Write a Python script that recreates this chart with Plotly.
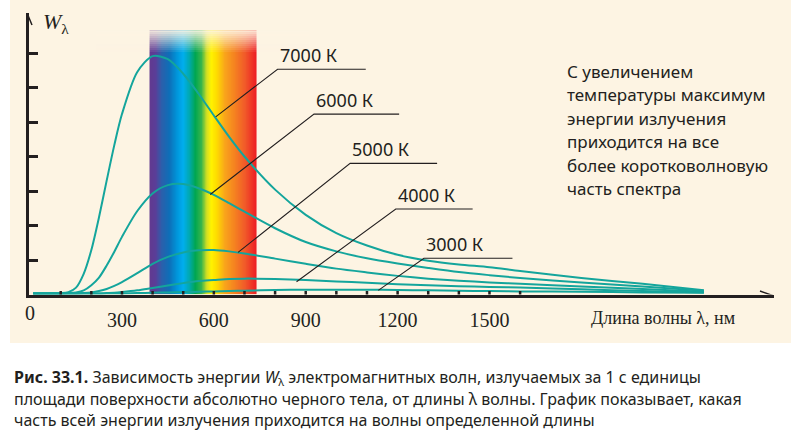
import numpy as np
import plotly.graph_objects as go

W_PX, H_PX = 791, 434

# wavelength samples, nm
wavelength = [10, 100, 125, 150, 175, 200, 225, 250, 275, 300, 350, 400, 450, 500,
              550, 600, 650, 700, 800, 900, 1000, 1100, 1200, 1300, 1400, 1500,
              1600, 1800, 2000, 2200]

# W_lambda (1 unit = one y tick)
w_7000 = [0.03, 0.04, 0.07, 0.2, 0.6, 1.29, 2.24, 3.30, 4.33, 5.23, 6.45, 6.91, 6.82, 6.40,
          5.82, 5.19, 4.57, 4.00, 3.04, 2.31, 1.78, 1.42, 1.15, 0.98, 0.87, 0.79,
          0.68, 0.48, 0.31, 0.12]
w_6000 = [0.03, 0.03, 0.04, 0.06, 0.12, 0.27, 0.49, 0.84, 1.24, 1.67, 2.42, 2.93, 3.17, 3.20,
          3.08, 2.89, 2.65, 2.40, 1.92, 1.52, 1.25, 1.05, 0.90, 0.77, 0.65, 0.56,
          0.48, 0.35, 0.23, 0.11]
w_5000 = [0.03, 0.03, 0.03, 0.03, 0.04, 0.06, 0.1, 0.16, 0.25, 0.36, 0.62, 0.89, 1.09, 1.22,
          1.28, 1.29, 1.25, 1.19, 1.04, 0.89, 0.75, 0.64, 0.54, 0.46, 0.40, 0.35,
          0.31, 0.23, 0.16, 0.08]
w_4000 = [0.03, 0.03, 0.03, 0.03, 0.03, 0.03, 0.03, 0.04, 0.05, 0.07, 0.12, 0.19, 0.26, 0.33,
          0.39, 0.42, 0.45, 0.46, 0.45, 0.42, 0.38, 0.34, 0.30, 0.27, 0.24, 0.22,
          0.20, 0.15, 0.10, 0.06]
w_3000 = [0.03, 0.03, 0.03, 0.03, 0.03, 0.03, 0.03, 0.03, 0.03, 0.03, 0.04, 0.05, 0.06, 0.07,
          0.08, 0.09, 0.10, 0.11, 0.13, 0.14, 0.14, 0.14, 0.13, 0.12, 0.11, 0.10,
          0.09, 0.08, 0.06, 0.05]

labels = ["7000 К", "6000 К", "5000 К", "4000 К", "3000 К"]
series = [w_7000, w_6000, w_5000, w_4000, w_3000]

x_tick_vals = [300, 600, 900, 1200, 1500]
x_minor_ticks = list(range(100, 1700, 100))
y_tick_vals = [1, 2, 3, 4, 5, 6, 7]

visible_range = [390, 740]
spectrum = [(390, "#62398f"), (410, "#5a3e98"), (430, "#2b5fab"), (455, "#0d6fb8"),
            (480, "#0095da"), (500, "#00aeef"), (520, "#00a9b0"), (540, "#00a651"),
            (560, "#39b54a"), (578, "#d7e021"), (592, "#fff200"), (610, "#fedb00"),
            (636, "#f9a51b"), (668, "#f58220"), (702, "#f15a29"), (740, "#ed1c24")]

note_lines = ["С увеличением", "температуры максимум", "энергии излучения",
              "приходится на все", "более коротковолновую", "часть спектра"]
caption_lines = [
    "<b>Рис. 33.1.</b> Зависимость энергии <i>W</i><sub>λ</sub> электромагнитных волн, излучаемых за 1 с единицы",
    "площади поверхности абсолютно черного тела, от длины λ волны. График показывает, какая",
    "часть всей энергии излучения приходится на волны определенной длины",
]

# leader lines: point on curve, elbow, end of underline (nm, W)
leaders = [((606, 5.15), (808, 6.53), 1096),
           ((588, 2.90), (927, 5.23), 1205),
           ((679, 1.22), (1045, 3.80), 1329),
           ((870, 0.37), (1194, 2.48), 1445),
           ((1137, 0.12), (1286, 1.05), 1575)]

INK = "#231f20"
TEAL = "#14a59c"
CREAM = "#fdf4e3"
X_RANGE = [-5.2, 2429]
Y_RANGE = [0, 8.16]
BAND_TOP = 7.66
FADE_FROM = 6.95


def px(x):
    return x / W_PX


def py(y):
    return 1 - y / H_PX


fig = go.Figure()

# spectrum band
lo, hi = visible_range
edges = np.arange(lo, hi + 1, 1.0)
centers = (edges[:-1] + edges[1:]) / 2
cs = [[(w - lo) / (hi - lo), c] for w, c in spectrum]
fig.add_trace(go.Heatmap(x=edges, y=[0, BAND_TOP], z=[centers], colorscale=cs,
                         zmin=lo, zmax=hi, showscale=False, hoverinfo="skip"))
fade_y = np.linspace(FADE_FROM, BAND_TOP, 13)
fade_z = [[k / 11.0] * 2 for k in range(12)]
fig.add_trace(go.Heatmap(x=[lo, hi], y=fade_y, z=fade_z,
                         colorscale=[[0, "rgba(253,244,227,0)"], [1, "rgba(253,244,227,0.9)"]],
                         zmin=0, zmax=1, showscale=False, hoverinfo="skip"))

for name, vals in zip(labels, series):
    fig.add_trace(go.Scatter(x=wavelength, y=vals, mode="lines", name=name,
                             line=dict(color=TEAL, width=2, shape="spline", smoothing=0.8),
                             hoverinfo="skip", showlegend=False))

shapes = [dict(type="rect", xref="paper", yref="paper", x0=px(10), x1=1,
               y0=py(343), y1=1, fillcolor=CREAM, line_width=0, layer="below")]
for t in x_minor_ticks:
    shapes.append(dict(type="line", xref="x", yref="y", x0=t, x1=t,
                       ysizemode="pixel", yanchor=0, y0=-8.5, y1=3.5,
                       line=dict(color=INK, width=2.5)))
# axis arrow heads
shapes.append(dict(type="path", xref="x", yref="y", xsizemode="pixel", ysizemode="pixel",
                   xanchor=X_RANGE[1], yanchor=0, path="M -14,3.5 L 0,-1.5 L -14,-6.5",
                   line=dict(color=INK, width=1.5), fillcolor="rgba(0,0,0,0)"))
shapes.append(dict(type="path", xref="x", yref="y", xsizemode="pixel", ysizemode="pixel",
                   xanchor=X_RANGE[0], yanchor=Y_RANGE[1], path="M -6.5,-12 L -1.5,0 L 3.5,-12",
                   line=dict(color=INK, width=1.5), fillcolor="rgba(0,0,0,0)"))

annotations = []
for name, (p0, p1, xend) in zip(labels, leaders):
    fig.add_trace(go.Scatter(x=[p0[0], p1[0], xend], y=[p0[1], p1[1], p1[1]], mode="lines",
                             line=dict(color=INK, width=1.1), hoverinfo="skip",
                             showlegend=False))
    annotations.append(dict(x=p1[0], y=p1[1], xref="x", yref="y", text=name,
                            xanchor="left", yanchor="bottom", showarrow=False,
                            font=dict(family="Noto Sans", size=18, color=INK)))


def paper_text(x, y, text, family, size, xanchor="left"):
    return dict(x=px(x), y=py(y), xref="paper", yref="paper", text=text,
                xanchor=xanchor, yanchor="middle", showarrow=False,
                font=dict(family=family, size=size, color=INK))


annotations.append(paper_text(30, 313, "0", "Liberation Serif", 20, "center"))
annotations.append(paper_text(589, 318, "Длина волны λ, нм", "Liberation Serif", 18))
annotations.append(paper_text(41, 23, "<i>W</i><sub>λ</sub>", "Liberation Serif", 22))
for i, line in enumerate(note_lines):
    annotations.append(paper_text(565, 71.5 + 23.4 * i, line, "Noto Sans", 17))
for i, line in enumerate(caption_lines):
    annotations.append(paper_text(12, 377 + 21.5 * i, line, "Noto Sans", 16))

fig.update_layout(
    width=W_PX, height=H_PX,
    margin=dict(l=0, r=0, t=0, b=0, autoexpand=False),
    paper_bgcolor="white", plot_bgcolor="rgba(0,0,0,0)",
    shapes=shapes, annotations=annotations,
    xaxis=dict(domain=[px(28.5), px(774)], range=X_RANGE, showgrid=False, zeroline=False,
               showline=True, linewidth=3, linecolor=INK, ticks="", automargin=False,
               tickvals=x_tick_vals, ticktext=[str(v) for v in x_tick_vals],
               ticklabelstandoff=5,
               tickfont=dict(family="Liberation Serif", size=20, color=INK)),
    yaxis=dict(domain=[py(294.5), py(13)], range=Y_RANGE, showgrid=False, zeroline=False,
               showline=True, linewidth=3, linecolor=INK, ticks="inside", ticklen=9,
               tickwidth=2.5, tickcolor=INK, tickvals=y_tick_vals, showticklabels=False,
               automargin=False),
)

# the page body has a default 8px margin; drop it so the figure sits at the corner
fig.write_html("out.html", config={"displayModeBar": False},
               post_script="document.body.style.margin='0';")
